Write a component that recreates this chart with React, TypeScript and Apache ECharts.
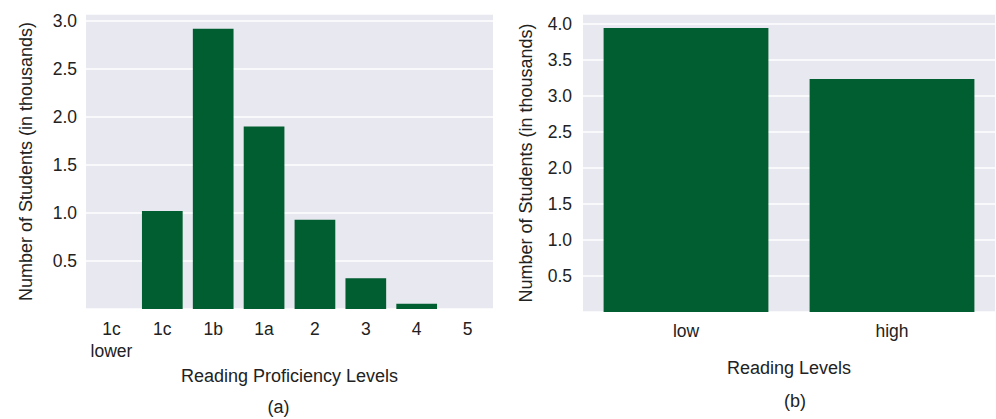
import React, { useEffect, useRef } from "react";
import * as echarts from "echarts";

const proficiencyLevels = ["1c\nlower", "1c", "1b", "1a", "2", "3", "4", "5"];
const proficiencyCounts = [0, 1.02, 2.92, 1.9, 0.93, 0.32, 0.055, 0];

const readingLevels = ["low", "high"];
const readingCounts = [3.94, 3.23];

const yTicksA = [0.5, 1.0, 1.5, 2.0, 2.5, 3.0];
const yTicksB = [0.5, 1.0, 1.5, 2.0, 2.5, 3.0, 3.5, 4.0];

const FONT = "'Liberation Sans', Arial, Helvetica, sans-serif";
const TEXT = "#222222";
const BAR = "#005e30";
const BG = "#e8e8f0";

export default function App() {
  const ref = useRef<HTMLDivElement>(null);
  useEffect(() => {
    if (!ref.current) return;
    const chart = echarts.init(ref.current, undefined, { renderer: "svg" });
    const tickFmt = (ticks: number[]) => (v: number) =>
      ticks.some((t) => Math.abs(t - v) < 1e-6) ? v.toFixed(1) : "";
    const yAxisBase = (ticks: number[], max: number, margin: number, nameGap: number, gridIndex: number) => ({
      type: "value",
      gridIndex,
      min: 0,
      max,
      interval: 0.5,
      name: "Number of Students (in thousands)",
      nameLocation: "middle",
      nameRotate: 90,
      nameGap,
      nameTextStyle: { fontFamily: FONT, fontSize: 18, color: TEXT },
      axisLine: { show: false },
      axisTick: { show: false },
      axisLabel: {
        show: true,
        margin,
        fontFamily: FONT,
        fontSize: 17.5,
        color: TEXT,
        showMaxLabel: false,
        showMinLabel: false,
        formatter: tickFmt(ticks),
      },
      splitLine: { show: true, lineStyle: { color: "#ffffff", width: 1.5 } },
    });
    const xAxisBase = (data: string[], name: string, nameGap: number, margin: number, gridIndex: number) => ({
      type: "category",
      gridIndex,
      data,
      name,
      nameLocation: "middle",
      nameGap,
      nameTextStyle: { fontFamily: FONT, fontSize: 18, color: TEXT },
      axisLine: { show: false },
      axisTick: { show: false },
      axisLabel: {
        margin,
        interval: 0,
        fontFamily: FONT,
        fontSize: 17.5,
        color: TEXT,
        lineHeight: 22,
      },
      splitLine: { show: false },
    });
    chart.setOption({
      animation: false,
      backgroundColor: "#ffffff",
      grid: [
        { left: 86, top: 14, width: 407, height: 295, show: true, backgroundColor: BG, borderWidth: 0 },
        { left: 583, top: 14, width: 412, height: 298, show: true, backgroundColor: BG, borderWidth: 0 },
      ],
      xAxis: [
        xAxisBase(proficiencyLevels, "Reading Proficiency Levels", 49, 9, 0),
        xAxisBase(readingLevels, "Reading Levels", 47, 8, 1),
      ],
      yAxis: [
        yAxisBase(yTicksA, 295 / 96, 9, 51, 0),
        yAxisBase(yTicksB, 298 / 72.1, 11, 48, 1),
      ],
      series: [
        {
          type: "bar",
          xAxisIndex: 0,
          yAxisIndex: 0,
          data: proficiencyCounts,
          barCategoryGap: "20%",
          itemStyle: { color: BAR },
        },
        {
          type: "bar",
          xAxisIndex: 1,
          yAxisIndex: 1,
          data: readingCounts,
          barCategoryGap: "20%",
          itemStyle: { color: BAR },
        },
      ],
      graphic: [
        {
          type: "text",
          x: 278.5,
          y: 407,
          style: { text: "(a)", fontFamily: FONT, fontSize: 18, fill: TEXT, align: "center", verticalAlign: "middle" },
        },
        {
          type: "text",
          x: 795,
          y: 401,
          style: { text: "(b)", fontFamily: FONT, fontSize: 18, fill: TEXT, align: "center", verticalAlign: "middle" },
        },
      ],
    });
    return () => chart.dispose();
  }, []);
  return (
    <div
      ref={ref}
      style={{ position: "fixed", left: 0, top: 0, width: 996, height: 419 }}
    />
  );
}
